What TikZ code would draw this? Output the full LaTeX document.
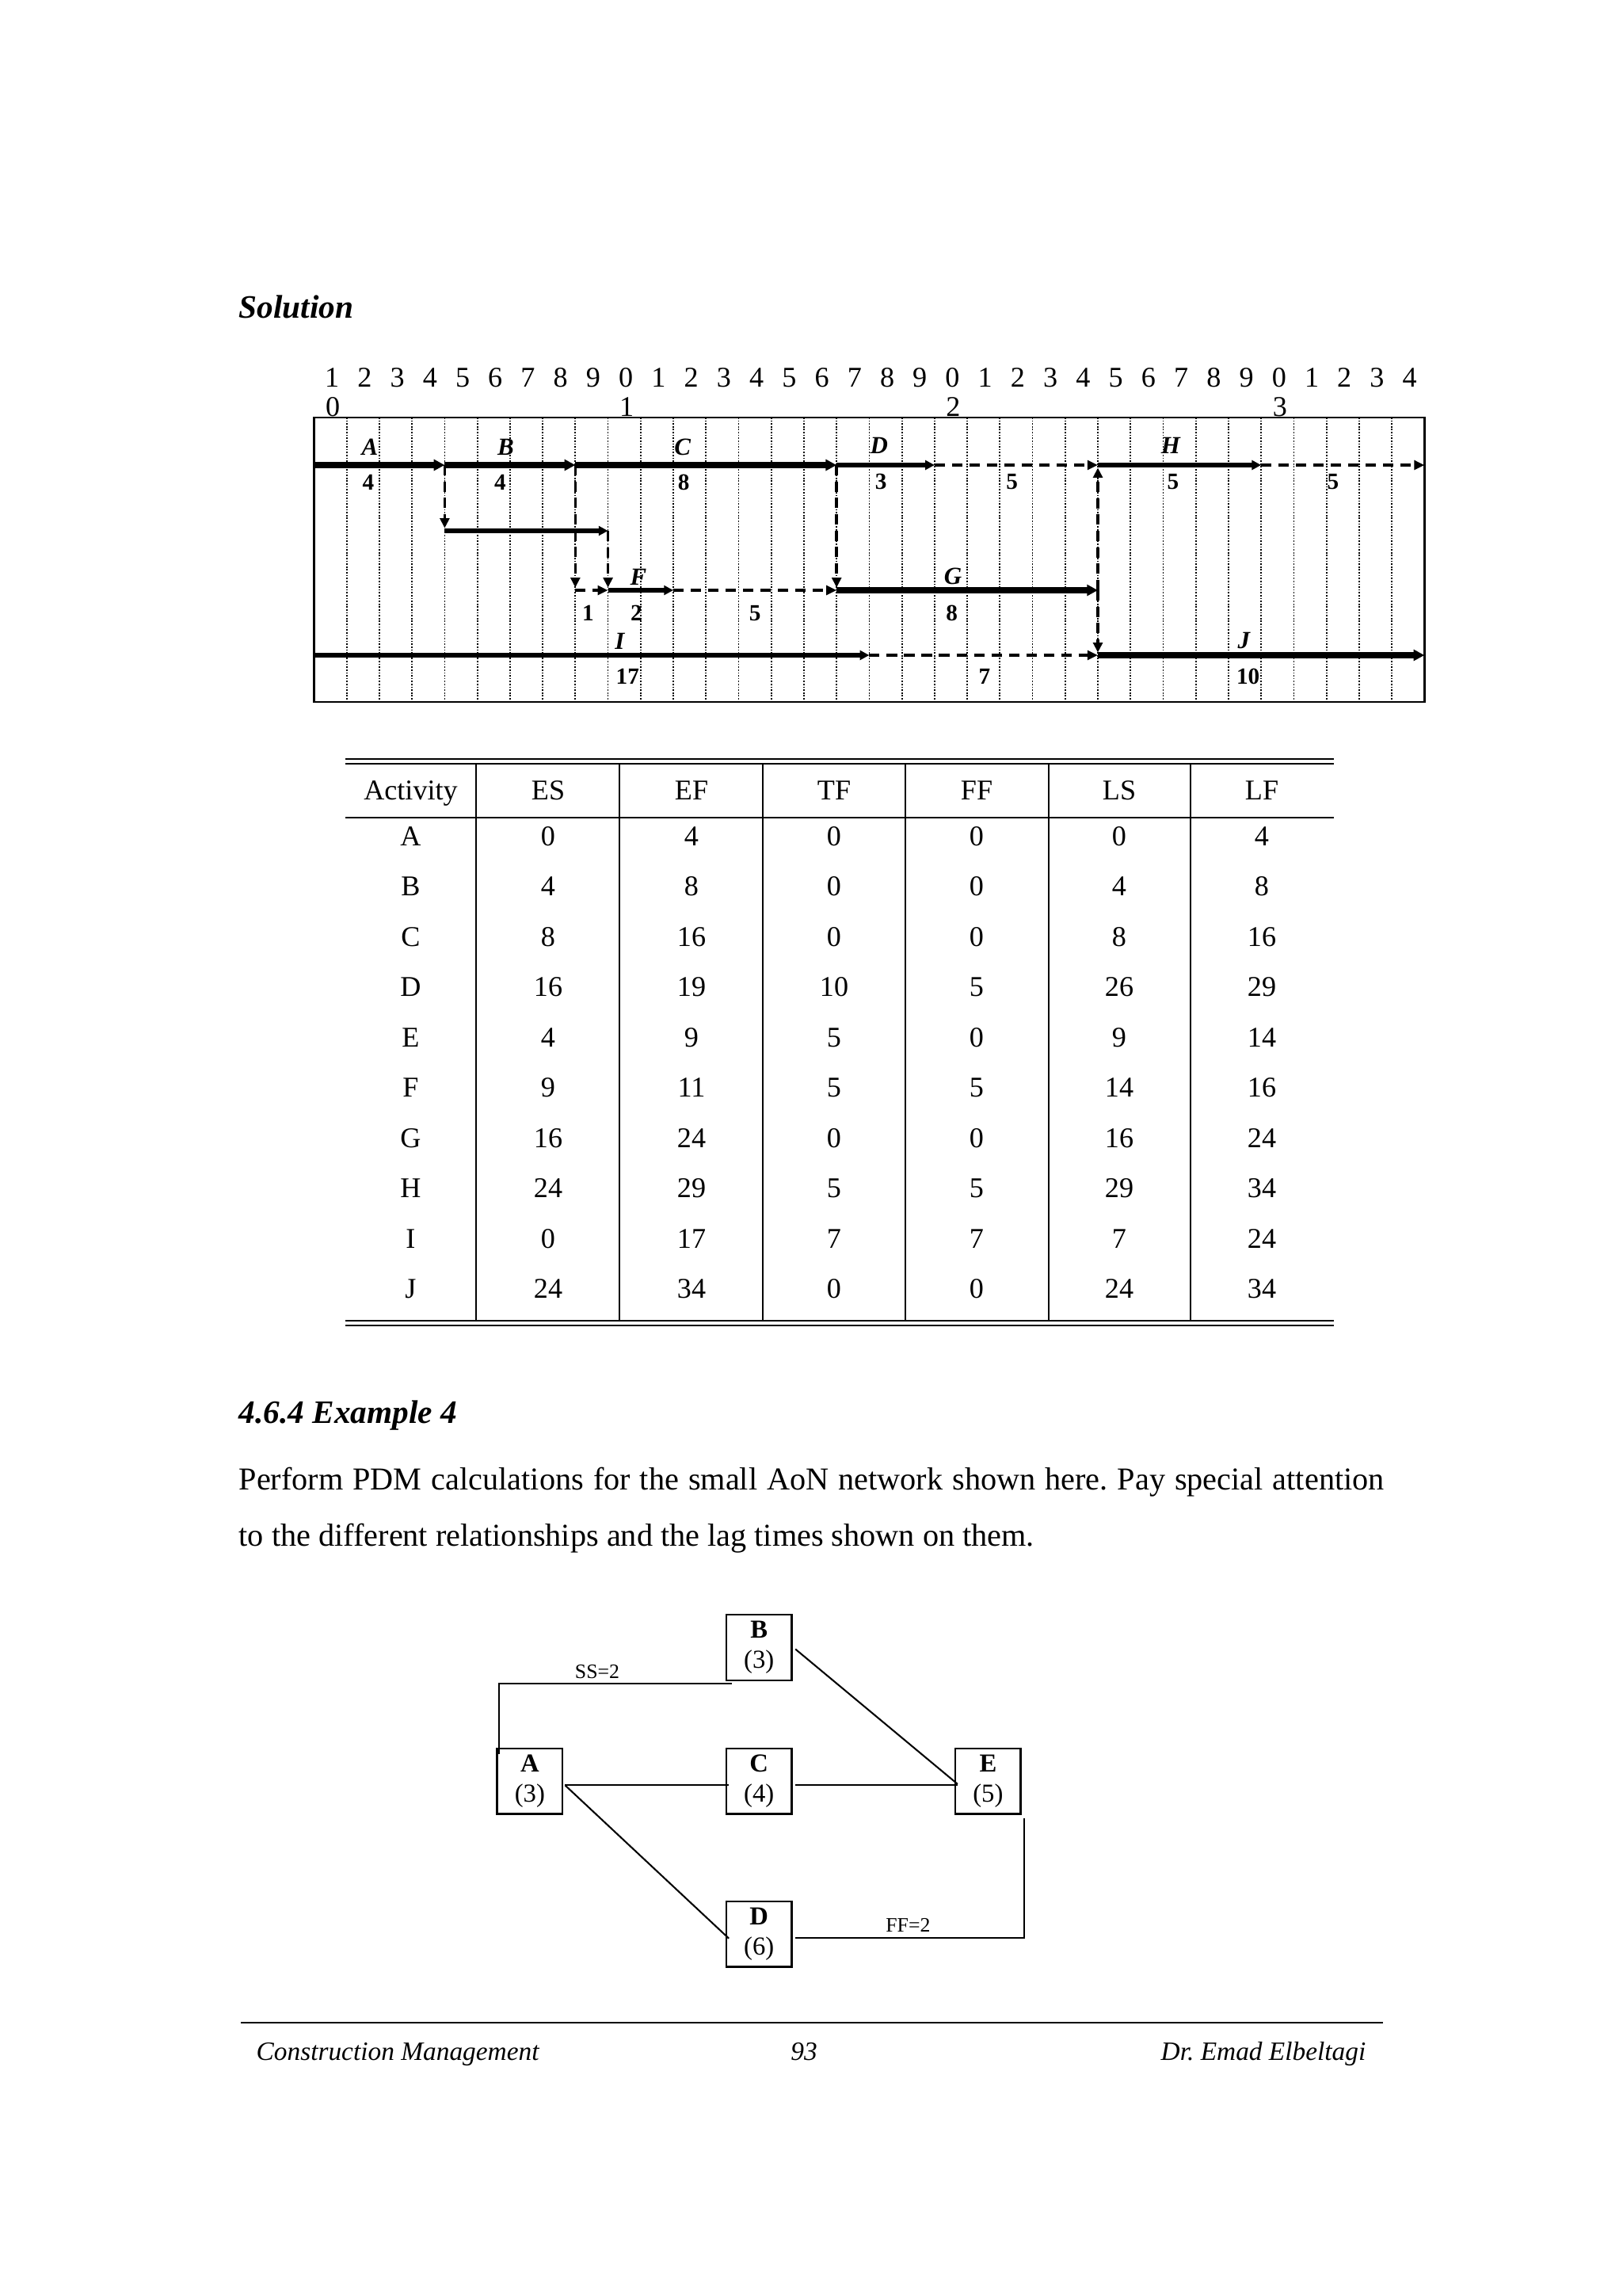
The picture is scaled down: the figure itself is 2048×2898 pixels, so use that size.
\documentclass[tikz,border=0pt]{standalone}
\usepackage{fontspec}
\setmainfont{Liberation Serif}
\usetikzlibrary{arrows.meta,calc,positioning}

% day -> x position on the time scale
\newcommand{\tday}[1]{396.5+41.23*#1}

\begin{document}
\frenchspacing
\begin{tikzpicture}[
    x=0.29067pt, y=-0.29067pt,
    frame/.style={line width=0.8pt},
    grid/.style={line width=0.5pt, dash pattern=on 0.5pt off 0.55pt},
    crit/.style={line width=2.3pt, -{Triangle[length=4pt,width=4pt]}},
    act/.style={line width=1.5pt, -{Triangle[length=3.4pt,width=3.4pt]}},
    float/.style={line width=1pt, dash pattern=on 3.8pt off 2.6pt, -{Triangle[length=3.8pt,width=3.4pt]}},
    dep/.style={line width=1pt, dash pattern=on 3.8pt off 2.2pt, -{Triangle[length=3.6pt,width=3.4pt]}, shorten >=1pt},
    tick/.style={font=\fontsize{10.5}{12}\selectfont, anchor=base, inner sep=0},
    lbl/.style={font=\fontsize{9}{10}\selectfont\bfseries\itshape, anchor=base, inner sep=0},
    dur/.style={font=\fontsize{8.5}{10}\selectfont\bfseries, anchor=base, inner sep=0},
    rule/.style={line width=0.6pt},
    cell/.style={font=\fontsize{10.5}{12}\selectfont, anchor=base, inner sep=0},
    head/.style={font=\fontsize{12}{14}\selectfont\bfseries\itshape, anchor=base west, inner sep=0},
    body/.style={font=\fontsize{11.7}{14}\selectfont, anchor=base west, inner sep=0},
    taskbox/.style={draw, line width=0.7pt, minimum width=24pt, minimum height=24pt, inner sep=0, align=center, font=\fontsize{9.5}{11}\selectfont},
    link/.style={line width=0.6pt},
    lag/.style={font=\fontsize{7.5}{9}\selectfont, inner sep=0},
    foot/.style={font=\fontsize{9.7}{12}\selectfont\itshape, inner sep=0}
]
\fill[white] (0,0) rectangle (2048,2898);
\useasboundingbox (0,0) rectangle (2048,2898);

\node[head] (sol) at (301,401.7) {Solution};

% time scale
\foreach \d in {1,...,34} {
  \pgfmathtruncatemacro\u{mod(\d,10)}
  \node[tick] (hd\d) at ({\tday{(\d-0.5)}+2},488) {\u};
}
\foreach \d/\t in {1/0,10/1,20/2,30/3}
  \node[tick] (hr\d) at ({\tday{(\d-0.5)}+3},525) {\t};

\foreach \d in {1,...,33}
  \draw[grid] ({\tday{\d}},527) -- ({\tday{\d}},886);
\draw[frame] (396.5,527) rectangle (1798.5,886);

% event points of the four rows
\foreach \d in {0,...,34} {
  \coordinate (a\d) at ({\tday{\d}},587);
  \coordinate (e\d) at ({\tday{\d}},670);
  \coordinate (f\d) at ({\tday{\d}},745);
  \coordinate (i\d) at ({\tday{\d}},827);
}

\draw[crit] (a0) -- (a4);
\draw[crit] (a4) -- (a8);
\draw[crit] (a8) -- (a16);
\draw[act] (a16) -- (a19);
\draw[float] (a19) -- (a24);
\draw[act] (a24) -- (a29);
\draw[float] (a29) -- (a34);

\draw[dep] (a4) -- (e4);
\draw[act] (e4) -- (e9);
\draw[dep] (e9) -- (f9);
\draw[dep] (a8) -- (f8);
\draw[float] (f8) -- (f9);
\draw[act] (f9) -- (f11);
\draw[float] (f11) -- (f16);
\draw[dep] (a16) -- (f16);
\draw[crit] (f16) -- (f24);
\draw[dep] (f24) -- (a24);
\draw[dep] (f24) -- (i24);

\draw[act] (i0) -- (i17);
\draw[float] (i17) -- (i24);
\draw[crit] (i24) -- (i34);

% activity names and durations
\node[lbl] (lA) at ({\tday{1.71}},574) {A};
\node[dur] (dA) at ({\tday{1.66}},618) {4};
\node[lbl] (lB) at ({\tday{5.87}},574) {B};
\node[dur] (dB) at ({\tday{5.70}},618) {4};
\node[lbl] (lC) at ({\tday{11.28}},574) {C};
\node[dur] (dC) at ({\tday{11.32}},618) {8};
\node[lbl] (lD) at ({\tday{17.3}},572) {D};
\node[dur] (dD) at ({\tday{17.36}},617) {3};
\node[dur] (fD) at ({\tday{21.37}},617) {5};
\node[lbl] (lH) at ({\tday{26.23}},572) {H};
\node[dur] (dH) at ({\tday{26.3}},617) {5};
\node[dur] (fH) at ({\tday{31.2}},617) {5};
\node[dur] (lagBF) at ({\tday{8.39}},783) {1};
\node[lbl] (lF) at ({\tday{9.93}},738) {F};
\node[dur] (dF) at ({\tday{9.87}},783) {2};
\node[dur] (fF) at ({\tday{13.5}},783) {5};
\node[lbl] (lG) at ({\tday{19.56}},737) {G};
\node[dur] (dG) at ({\tday{19.53}},783) {8};
\node[lbl] (lI) at ({\tday{9.36}},819) {I};
\node[dur] (dI) at ({\tday{9.6}},863) {17};
\node[dur] (fI) at ({\tday{20.53}},863) {7};
\node[lbl] (lJ) at ({\tday{28.47}},818) {J};
\node[dur] (dJ) at ({\tday{28.6}},863) {10};

% results table
\draw[rule] (436,958) -- (1684,958);
\draw[rule] (436,964) -- (1684,964);
\draw[rule] (436,1032) -- (1684,1032);
\draw[rule] (436,1667) -- (1684,1667);
\draw[rule] (436,1673) -- (1684,1673);
\foreach \x in {601,782,963,1143,1324,1503}
  \draw[rule] (\x,964) -- (\x,1667);

\foreach \h/\x [count=\c] in {Activity/518.5,ES/692,EF/873,TF/1053,FF/1233,LS/1413,LF/1593}
  \node[cell] (h\c) at (\x,1009) {\h};

\foreach \a/\es/\ef/\tf/\ff/\ls/\lf [count=\r] in {A/0/4/0/0/0/4, B/4/8/0/0/4/8, C/8/16/0/0/8/16,
    D/16/19/10/5/26/29, E/4/9/5/0/9/14, F/9/11/5/5/14/16, G/16/24/0/0/16/24,
    H/24/29/5/5/29/34, I/0/17/7/7/7/24, J/24/34/0/0/24/34} {
  \pgfmathsetmacro\y{1067+63.5*(\r-1)}
  \node[cell] (\a-act) at (518.5,\y) {\a};
  \node[cell] (\a-es) at (692,\y) {\es};
  \node[cell] (\a-ef) at (873,\y) {\ef};
  \node[cell] (\a-tf) at (1053,\y) {\tf};
  \node[cell] (\a-ff) at (1233,\y) {\ff};
  \node[cell] (\a-ls) at (1413,\y) {\ls};
  \node[cell] (\a-lf) at (1593,\y) {\lf};
}

% example text
\node[head] (ex) at (301,1796.7) {4.6.4 Example 4};
\node[body] (line1) at (301,1880) {\hbox to 420.3pt{Perform PDM calculations for the small AoN network shown here. Pay special attention}};
\node[body] (line2) at (301,1951) {to the different relationships and the lag times shown on them.};

% AoN network
\node[taskbox] (nB) at (958.2,2079.5) {\textbf{B}\\(3)};
\node[taskbox] (nA) at (668.9,2248.3) {\textbf{A}\\(3)};
\node[taskbox] (nC) at (958.2,2248.3) {\textbf{C}\\(4)};
\node[taskbox] (nE) at (1247.4,2248.3) {\textbf{E}\\(5)};
\node[taskbox] (nD) at (958.2,2441) {\textbf{D}\\(6)};

\draw[link] ($(nA.north west)+(3.6,8)$) |- ($(nB.south west)+(8,3.3)$);
\node[lag] (ss) at (754,2110) {SS=2};
\draw[link] ($(nB.east)+(3.5,2)$) -- ($(nE.west)+(4,3.5)$);
\draw[link] ($(nA.east)+(2,5)$) -- ($(nC.west)+(4.5,5)$);
\draw[link] ($(nC.east)+(3.5,5)$) -- ($(nE.west)+(4.5,5)$);
\draw[link] ($(nA.east)+(2,5)$) -- ($(nD.west)+(4.5,5.7)$);
\draw[link] ($(nD.east)+(3.5,5)$) -| ($(nE.south east)+(3.2,3.7)$);
\node[lag] (ff) at (1146.4,2430) {FF=2};

% footer
\draw[line width=0.6pt] (304,2553) -- (1746,2553);
\node[foot, anchor=base west] (ftl) at (323,2600) {Construction Management};
\node[foot, anchor=base] (ftc) at (1015,2600) {93};
\node[foot, anchor=base east] (ftr) at (1725,2600) {Dr. Emad Elbeltagi};
\end{tikzpicture}
\end{document}
